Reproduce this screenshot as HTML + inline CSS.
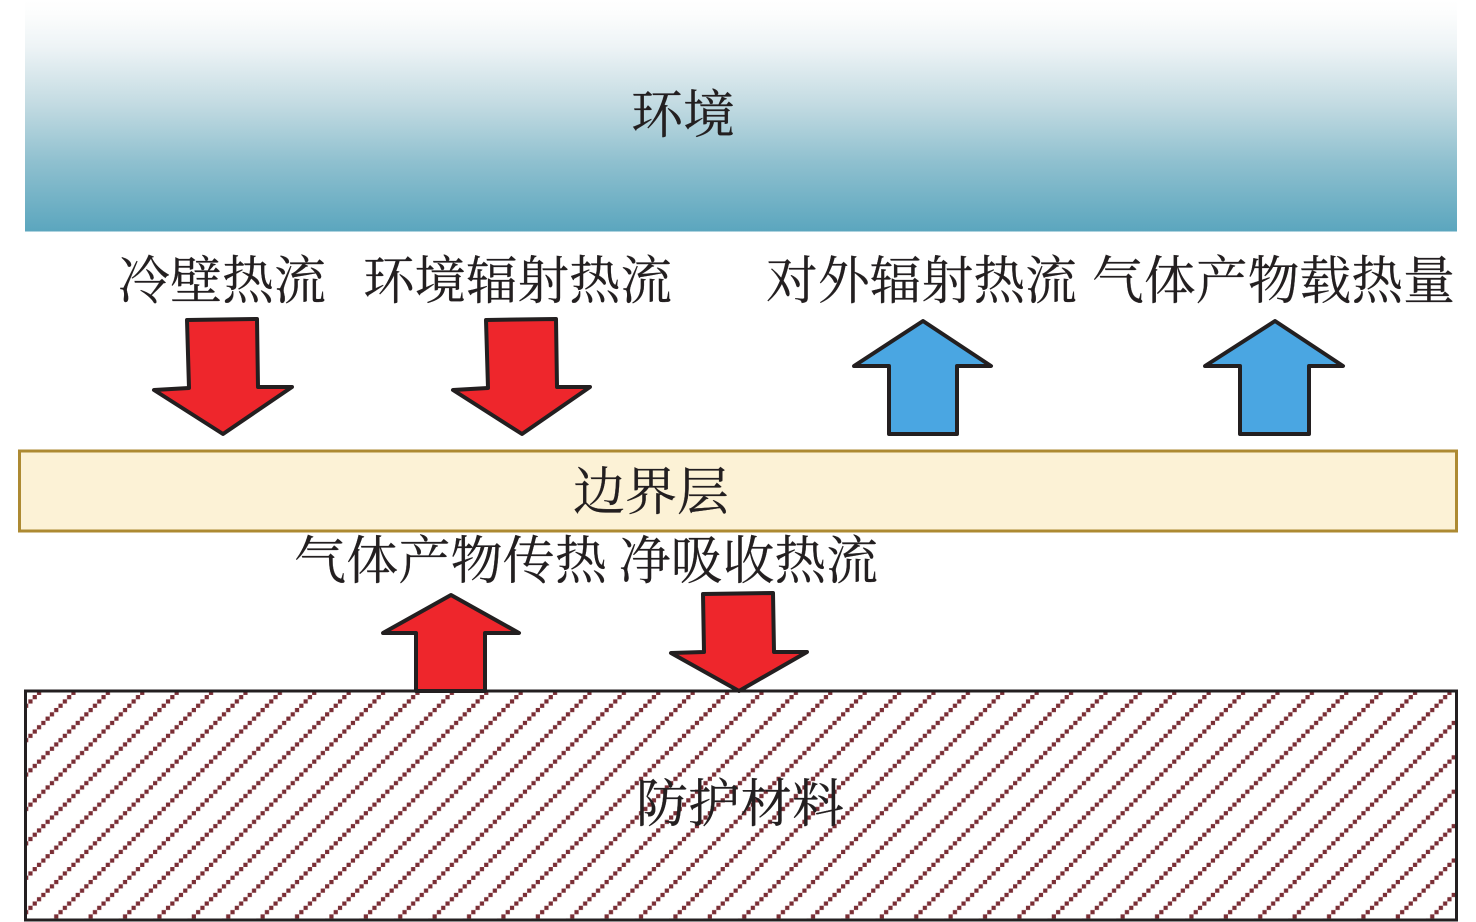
<!DOCTYPE html>
<html>
<head>
<meta charset="utf-8">
<style>
html,body{margin:0;padding:0;background:#fff;width:1476px;height:922px;overflow:hidden}
svg{display:block}
text{font-family:"Liberation Serif","Noto Serif CJK SC",serif;font-size:52px;fill:#231f20;stroke:#231f20;stroke-width:.2px}
</style>
</head>
<body>
<svg width="1476" height="922" viewBox="0 0 1476 922" xmlns="http://www.w3.org/2000/svg">
<defs>
<linearGradient id="g" x1="0" y1="0" x2="0" y2="1">
<stop offset="0" stop-color="#ffffff"/>
<stop offset="0.06" stop-color="#fcfdfd"/>
<stop offset="0.2" stop-color="#eef4f6"/>
<stop offset="0.45" stop-color="#c3dbe2"/>
<stop offset="0.7" stop-color="#8fc0cf"/>
<stop offset="1" stop-color="#5ba6be"/>
</linearGradient>
<pattern id="h" patternUnits="userSpaceOnUse" x="2.5" y="695" width="34.4" height="34.4">
<g fill="#7a2e35">
<rect x="0.05" y="30.15" width="4.2" height="4.2"/>
<rect x="4.35" y="25.85" width="4.2" height="4.2"/>
<rect x="8.65" y="21.55" width="4.2" height="4.2"/>
<rect x="12.95" y="17.25" width="4.2" height="4.2"/>
<rect x="17.25" y="12.95" width="4.2" height="4.2"/>
<rect x="21.55" y="8.65" width="4.2" height="4.2"/>
<rect x="25.85" y="4.35" width="4.2" height="4.2"/>
<rect x="30.15" y="0.05" width="4.2" height="4.2"/>
</g>
</pattern>
</defs>

<rect x="25" y="0" width="1432" height="231.500" fill="url(#g)"/>
<text x="631" y="133" textLength="104" lengthAdjust="spacingAndGlyphs">环境</text>

<text x="118" y="299" textLength="208" lengthAdjust="spacingAndGlyphs">冷壁热流</text>
<text x="363" y="299" textLength="309" lengthAdjust="spacingAndGlyphs">环境辐射热流</text>
<text x="766" y="299" textLength="311" lengthAdjust="spacingAndGlyphs">对外辐射热流</text>
<text x="1092" y="299" textLength="363" lengthAdjust="spacingAndGlyphs">气体产物载热量</text>

<g stroke="#231f20" stroke-width="4" stroke-linejoin="round">
<polygon fill="#ee262c" points="187,320 257,319 258,387 292,387 223,434 154,390 189,388"/>
<polygon fill="#ee262c" points="486,320 556,319 557,387 590,387 522,434 453,390 488,388"/>
<polygon fill="#4aa6e2" points="923,321 991,366 957,366 957,434 889,434 889,366 854,366"/>
<polygon fill="#4aa6e2" points="1275,321 1343,366 1309,366 1309,434 1240,434 1240,366 1205,366"/>
</g>

<rect x="19.500" y="451" width="1437" height="80" fill="#fcf2d6" stroke="#ad8a32" stroke-width="3"/>
<text x="573" y="510" textLength="156" lengthAdjust="spacingAndGlyphs">边界层</text>

<text x="294" y="579" textLength="313" lengthAdjust="spacingAndGlyphs">气体产物传热</text>
<text x="619" y="579" textLength="259" lengthAdjust="spacingAndGlyphs">净吸收热流</text>

<rect x="25.500" y="691" width="1431" height="229" fill="#fff"/>
<rect x="25.500" y="691" width="1431" height="229" fill="url(#h)"/>

<g stroke="#231f20" stroke-width="4" stroke-linejoin="round">
<polygon fill="#ee262c" points="451,595 519,633 485,633 485,691 416,691 416,633 383,633"/>
<polygon fill="#ee262c" points="703,594 773,593 774,652 807,652 739,691 671,653 704,652"/>
</g>

<rect x="25.500" y="691" width="1431" height="229" fill="none" stroke="#231f20" stroke-width="3"/>
<text x="636" y="822" textLength="208" lengthAdjust="spacingAndGlyphs">防护材料</text>
</svg>
</body>
</html>
